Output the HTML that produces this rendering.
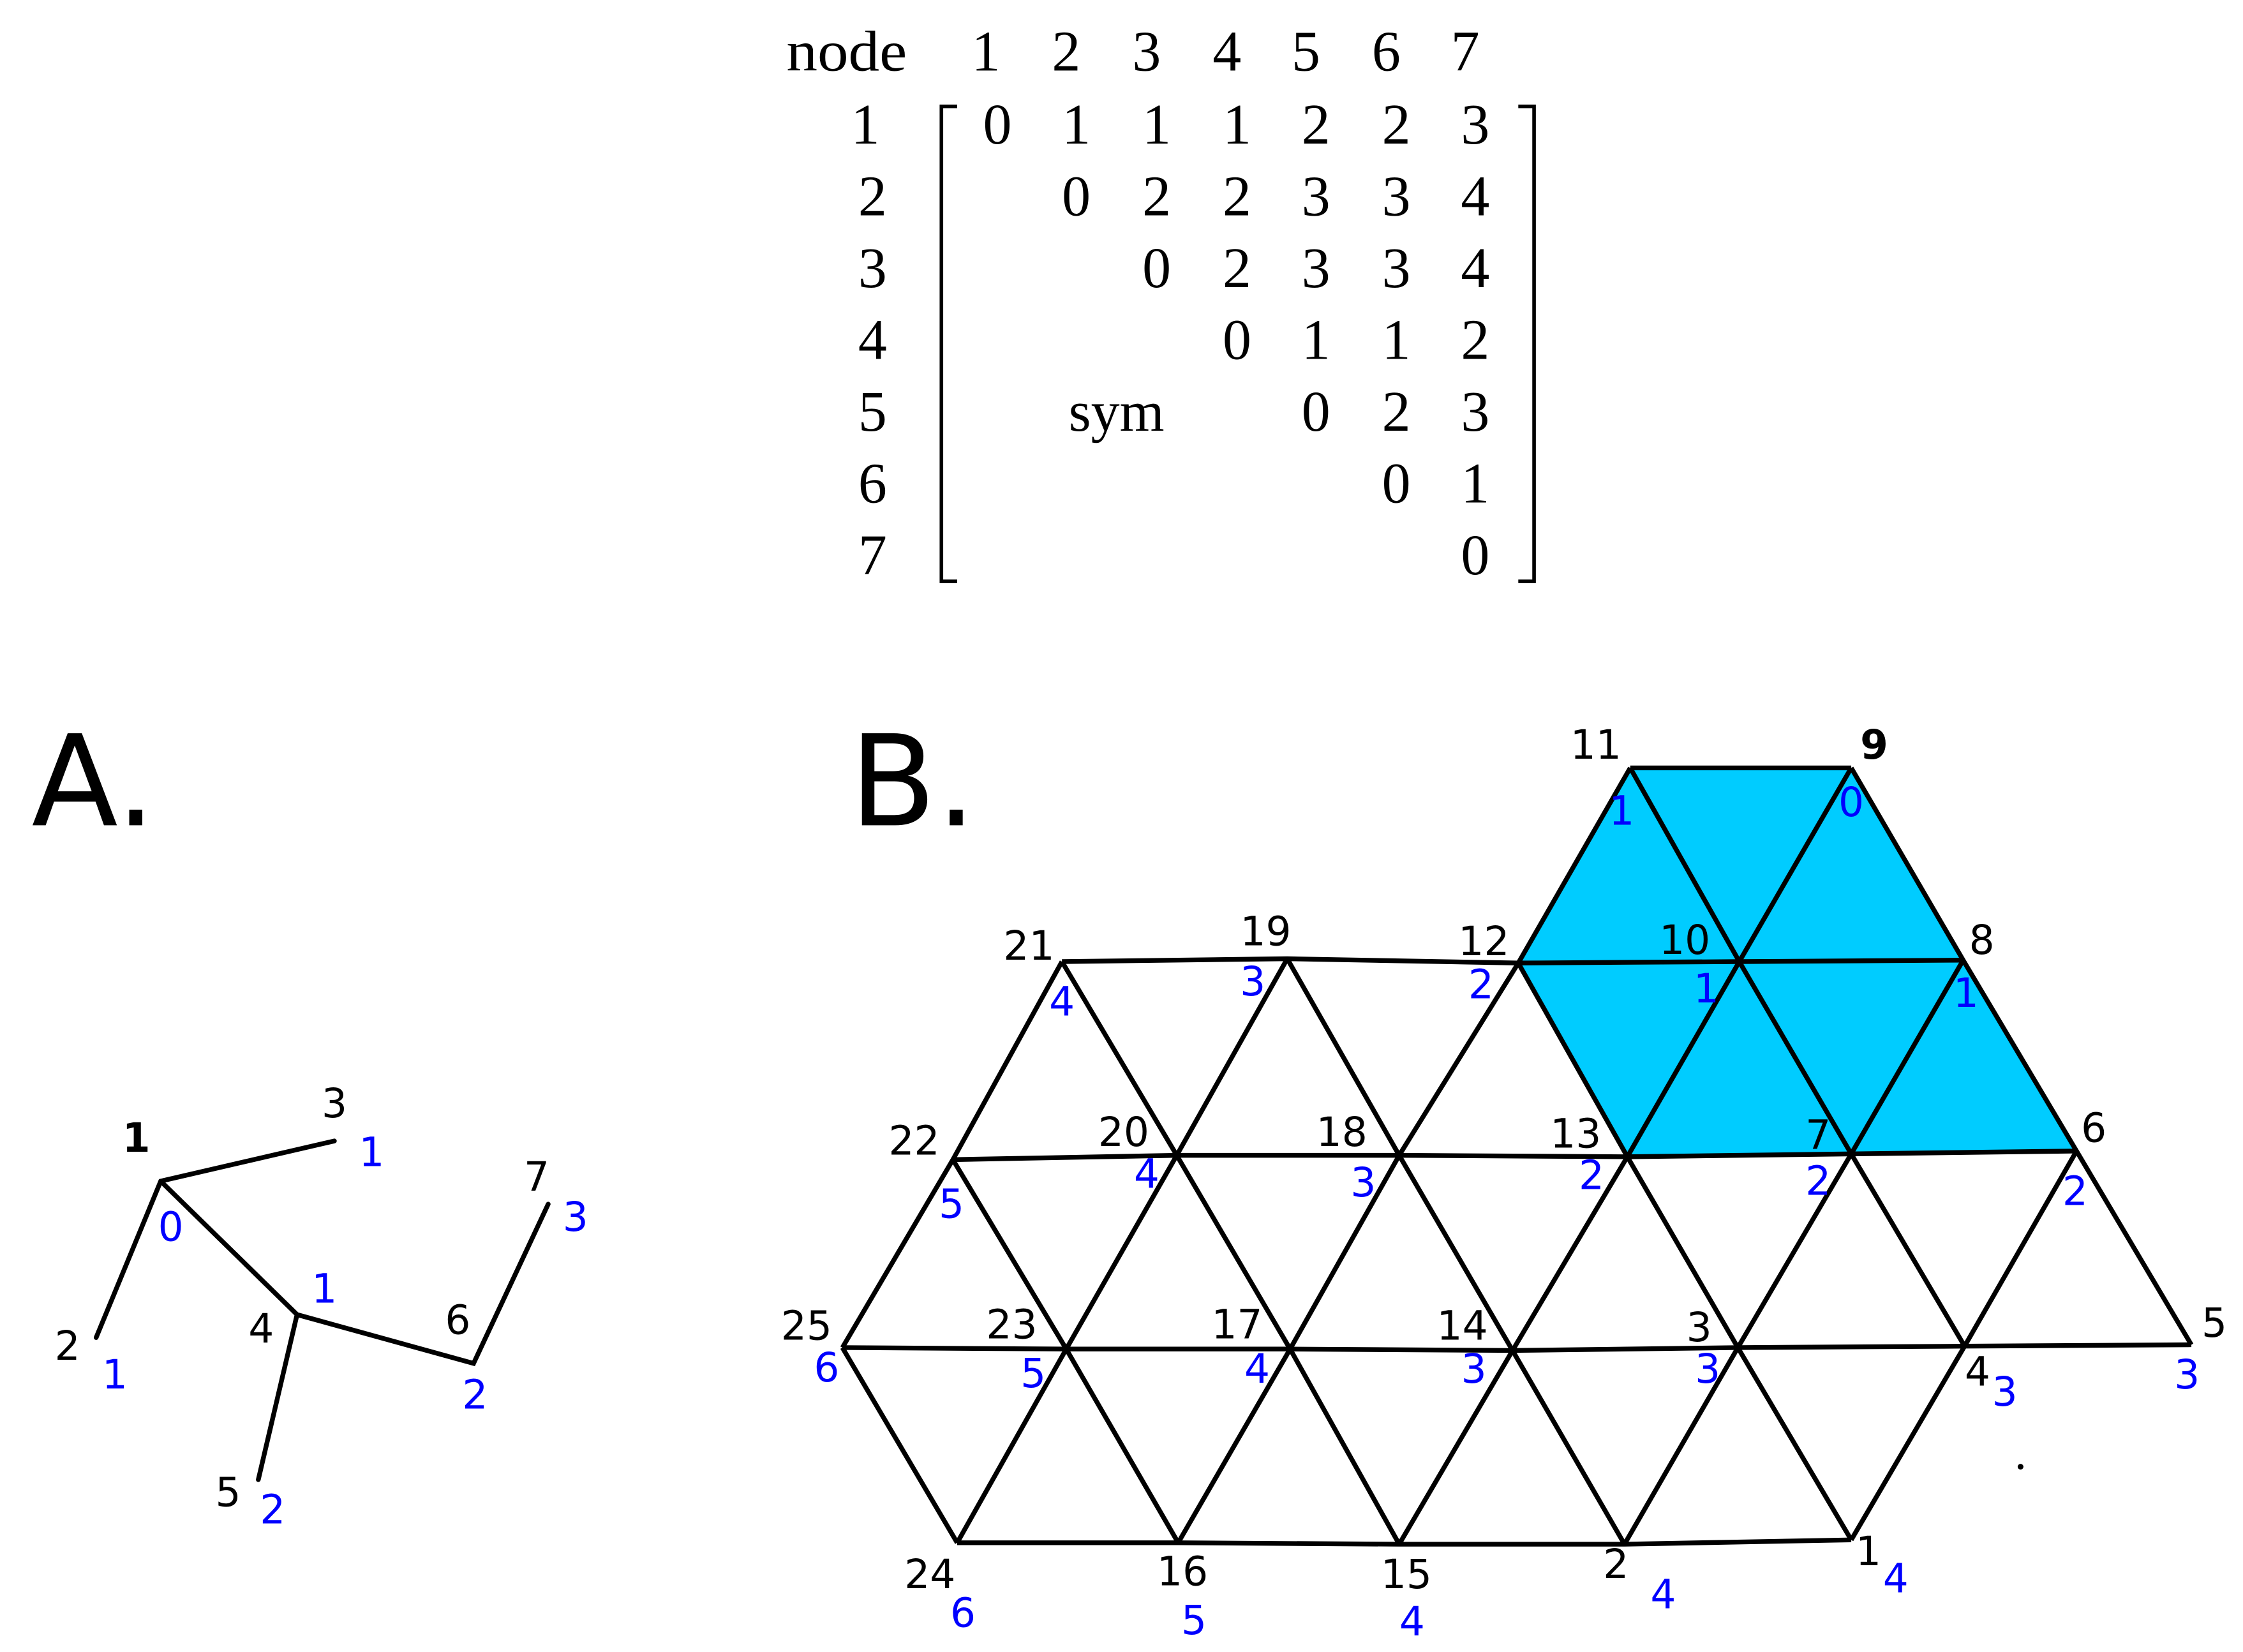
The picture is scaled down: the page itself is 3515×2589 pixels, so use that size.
<!DOCTYPE html>
<html><head><meta charset="utf-8"><style>html,body{margin:0;padding:0;background:#fff}svg{display:block}</style></head>
<body>
<svg width="3515" height="2589" viewBox="0 0 1563 1151" xmlns="http://www.w3.org/2000/svg">
<rect width="1563" height="1151" fill="#fff"/>
<g font-family="Liberation Serif, serif" font-size="40" fill="#000" text-anchor="middle">
<text x="590" y="49" textLength="84" lengthAdjust="spacingAndGlyphs">node</text>
<text x="687" y="49">1</text><text x="743" y="49">2</text><text x="799" y="49">3</text><text x="855" y="49">4</text><text x="910" y="49">5</text><text x="966" y="49">6</text><text x="1021" y="49">7</text>
<text x="603" y="100">1</text><text x="608" y="150">2</text><text x="608" y="200">3</text><text x="608" y="250">4</text><text x="608" y="300">5</text><text x="608" y="350">6</text><text x="608" y="400">7</text>
<text x="695" y="100">0</text><text x="750" y="100">1</text><text x="806" y="100">1</text><text x="862" y="100">1</text><text x="917" y="100">2</text><text x="973" y="100">2</text><text x="1028" y="100">3</text>
<text x="750" y="150">0</text><text x="806" y="150">2</text><text x="862" y="150">2</text><text x="917" y="150">3</text><text x="973" y="150">3</text><text x="1028" y="150">4</text>
<text x="806" y="200">0</text><text x="862" y="200">2</text><text x="917" y="200">3</text><text x="973" y="200">3</text><text x="1028" y="200">4</text>
<text x="862" y="250">0</text><text x="917" y="250">1</text><text x="973" y="250">1</text><text x="1028" y="250">2</text>
<text x="778" y="300">sym</text><text x="917" y="300">0</text><text x="973" y="300">2</text><text x="1028" y="300">3</text>
<text x="973" y="350">0</text><text x="1028" y="350">1</text>
<text x="1028" y="400">0</text>
</g>
<path d="M667 74 H656 V405 H667 M1058 74 H1069 V405 H1058" fill="none" stroke="#000" stroke-width="2.5"/>
<g font-family="DejaVu Sans, sans-serif" font-size="88" fill="#000">
<text x="22" y="575">A.</text><text x="592" y="575">B.</text>
</g>
<g stroke="#000" stroke-width="3.3" fill="none" stroke-linecap="round">
<path d="M233 795 L112 823 L67 932 M112 823 L207 916 L180 1031 M207 916 L330 950 L382 839"/>
</g>
<g font-family="DejaVu Sans, sans-serif" font-size="28" text-anchor="middle" dominant-baseline="central">
<text x="95" y="793" font-weight="bold">1</text><text x="233" y="769">3</text><text x="47" y="938">2</text><text x="182" y="926">4</text><text x="319" y="920">6</text><text x="374" y="820">7</text><text x="159" y="1040">5</text>
<g fill="#0000ff"><text x="259" y="803">1</text><text x="119" y="855">0</text><text x="80" y="958">1</text><text x="226" y="898">1</text><text x="331" y="972">2</text><text x="401" y="848">3</text><text x="190" y="1052">2</text></g>
</g>
<polygon points="1136,535 1290,535 1368,669 1447,802 1134,806 1058,671" fill="#00ccff"/>
<g stroke="#000" stroke-width="3.3" fill="none" stroke-linejoin="round">
<path d="M1136 535 L1290 535 M740 670 L897 668 L1058 671 L1212 670 L1368 669 M664 808 L820 805 L975 805 L1134 806 L1290 804 L1447 802 M587 939 L743 940 L899 940 L1054 941 L1211 939 L1369 938 L1527 937 M667 1075 L821 1075 L975 1076 L1132 1076 L1290 1073"/>
<path d="M1136 535 L1058 671 M1136 535 L1212 670 M1290 535 L1212 670 M1290 535 L1368 669
M740 670 L664 808 M740 670 L820 805 M897 668 L820 805 M897 668 L975 805 M1058 671 L975 805 M1058 671 L1134 806 M1212 670 L1134 806 M1212 670 L1290 804 M1368 669 L1290 804 M1368 669 L1447 802
M664 808 L587 939 M664 808 L743 940 M820 805 L743 940 M820 805 L899 940 M975 805 L899 940 M975 805 L1054 941 M1134 806 L1054 941 M1134 806 L1211 939 M1290 804 L1211 939 M1290 804 L1369 938 M1447 802 L1369 938 M1447 802 L1527 937
M587 939 L667 1075 M743 940 L667 1075 M743 940 L821 1075 M899 940 L821 1075 M899 940 L975 1076 M1054 941 L975 1076 M1054 941 L1132 1076 M1211 939 L1132 1076 M1211 939 L1290 1073 M1369 938 L1290 1073"/>
</g>
<circle cx="1408" cy="1022" r="2" fill="#000"/>
<g font-family="DejaVu Sans, sans-serif" font-size="28" text-anchor="middle" dominant-baseline="central">
<text x="1112" y="519">11</text><text x="1306" y="519" font-weight="bold">9</text>
<text x="717" y="659">21</text><text x="882" y="649">19</text><text x="1034" y="656">12</text><text x="1174" y="655">10</text><text x="1381" y="655">8</text>
<text x="637" y="795">22</text><text x="783" y="789">20</text><text x="935" y="789">18</text><text x="1098" y="790">13</text><text x="1267" y="791">7</text><text x="1459" y="786">6</text>
<text x="562" y="924">25</text><text x="705" y="923">23</text><text x="862" y="923">17</text><text x="1019" y="924">14</text><text x="1184" y="925">3</text><text x="1378" y="956">4</text><text x="1543" y="922">5</text>
<text x="648" y="1097">24</text><text x="824" y="1095">16</text><text x="980" y="1097">15</text><text x="1126" y="1090">2</text><text x="1302" y="1081">1</text>
<g fill="#0000ff">
<text x="1130" y="565">1</text><text x="1290" y="559">0</text>
<text x="740" y="698">4</text><text x="873" y="684">3</text><text x="1032" y="686">2</text><text x="1189" y="689">1</text><text x="1370" y="692">1</text>
<text x="663" y="839">5</text><text x="799" y="818">4</text><text x="950" y="824">3</text><text x="1109" y="819">2</text><text x="1267" y="823">2</text><text x="1446" y="830">2</text>
<text x="576" y="953">6</text><text x="720" y="957">5</text><text x="876" y="954">4</text><text x="1027" y="954">3</text><text x="1190" y="954">3</text><text x="1397" y="970">3</text><text x="1524" y="958">3</text>
<text x="671" y="1124">6</text><text x="832" y="1129">5</text><text x="984" y="1130">4</text><text x="1159" y="1111">4</text><text x="1321" y="1100">4</text>
</g>
</g>
</svg>
</body></html>
